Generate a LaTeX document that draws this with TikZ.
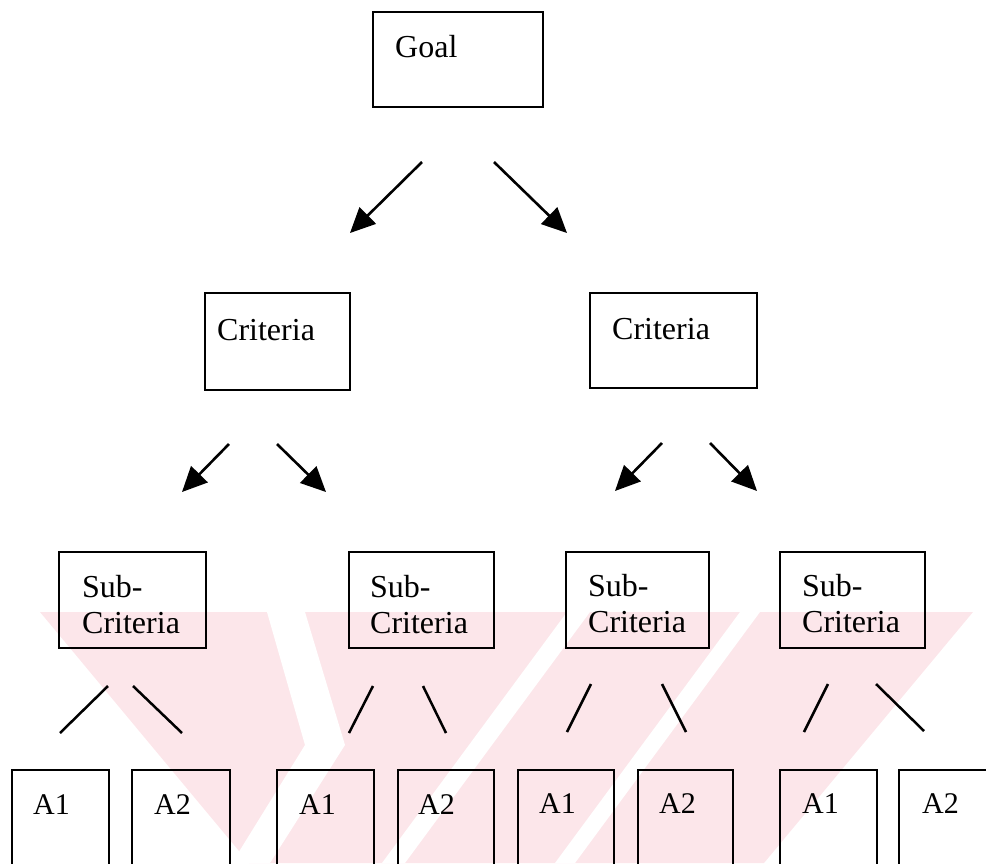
\documentclass[tikz,border=0pt]{standalone}
\usepackage{fontspec}
\setmainfont{Liberation Serif}
\usetikzlibrary{arrows.meta}
\definecolor{wm}{HTML}{FCE6EA}
\tikzset{
  box/.style={draw, line width=2.2pt, inner sep=0pt, rectangle},
  lbl/.style={anchor=base west, inner sep=0pt, font=\fontsize{32}{36}\selectfont},
  albl/.style={anchor=base west, inner sep=0pt, font=\fontsize{30}{34}\selectfont},
  arr/.style={line width=2.6pt, -{Triangle[length=25pt,width=23pt]}},
  link/.style={line width=2.5pt},
}
\begin{document}
\begin{tikzpicture}[x=1pt,y=-1pt]
\useasboundingbox (0,0) rectangle (986,863);
% faint watermark
\fill[wm] (40,612) -- (973,612) -- (764,863) -- (249,863) -- cycle;
\fill[white] (267,612) -- (305,612) -- (345,745) -- (270,863) -- (232,863) -- (305,745) -- cycle;
\fill[white] (567,612) -- (590,612) -- (405,863) -- (382,863) -- cycle;
\fill[white] (740,612) -- (760,612) -- (575,863) -- (555,863) -- cycle;
\fill[white] (900,700) -- (986,700) -- (986,863) -- (880,863) -- (840,820) -- cycle;

% boxes
\node[box, minimum width=170pt, minimum height=95pt] (goal) at (458,59.5) {};
\node[box, minimum width=145pt, minimum height=97pt] (critL) at (277.5,341.5) {};
\node[box, minimum width=167pt, minimum height=95pt] (critR) at (673.5,340.5) {};
\node[box, minimum width=147pt, minimum height=96pt] (s1) at (132.5,600) {};
\node[box, minimum width=145pt, minimum height=96pt] (s2) at (421.5,600) {};
\node[box, minimum width=143pt, minimum height=96pt] (s3) at (637.5,600) {};
\node[box, minimum width=145pt, minimum height=96pt] (s4) at (852.5,600) {};
\node[box, minimum width=97pt, minimum height=100pt] (a1) at (60.5,820) {};
\node[box, minimum width=98pt, minimum height=100pt] (a2) at (181,820) {};
\node[box, minimum width=97pt, minimum height=100pt] (a3) at (325.5,820) {};
\node[box, minimum width=96pt, minimum height=100pt] (a4) at (446,820) {};
\node[box, minimum width=96pt, minimum height=100pt] (a5) at (566,820) {};
\node[box, minimum width=95pt, minimum height=100pt] (a6) at (685.5,820) {};
\node[box, minimum width=97pt, minimum height=100pt] (a7) at (828.5,820) {};
\node[box, minimum width=96pt, minimum height=100pt] (a8) at (947,820) {};

% texts
\node[lbl] (goalt) at (395,57) {Goal};
\node[lbl] (critLt) at (217,340) {Criteria};
\node[lbl] (critRt) at (612,339) {Criteria};
\node[lbl] (s1a) at (82,597) {Sub-};
\node[lbl] (s1b) at (82,633) {Criteria};
\node[lbl] (s2a) at (370,597) {Sub-};
\node[lbl] (s2b) at (370,633) {Criteria};
\node[lbl] (s3a) at (588,596) {Sub-};
\node[lbl] (s3b) at (588,632) {Criteria};
\node[lbl] (s4a) at (802,596) {Sub-};
\node[lbl] (s4b) at (802,632) {Criteria};
\node[albl] (a1t) at (33,814) {A1};
\node[albl] (a2t) at (154,814) {A2};
\node[albl] (a3t) at (299,814) {A1};
\node[albl] (a4t) at (418,814) {A2};
\node[albl] (a5t) at (539,813) {A1};
\node[albl] (a6t) at (659,813) {A2};
\node[albl] (a7t) at (802,813) {A1};
\node[albl] (a8t) at (922,813) {A2};

% connector end points
\coordinate (g1s) at (422,162); \coordinate (g1e) at (350,233);
\coordinate (g2s) at (494,162); \coordinate (g2e) at (567,233);
\coordinate (l1s) at (229,444); \coordinate (l1e) at (182,492);
\coordinate (l2s) at (277,444); \coordinate (l2e) at (326,492);
\coordinate (r1s) at (662,443); \coordinate (r1e) at (615,491);
\coordinate (r2s) at (710,443); \coordinate (r2e) at (757,491);
\coordinate (p1s) at (108,686); \coordinate (p1e) at (60,733);
\coordinate (p2s) at (133,686); \coordinate (p2e) at (182,733);
\coordinate (p3s) at (373,686); \coordinate (p3e) at (349,733);
\coordinate (p4s) at (423,686); \coordinate (p4e) at (446,733);
\coordinate (p5s) at (591,684); \coordinate (p5e) at (567,732);
\coordinate (p6s) at (662,684); \coordinate (p6e) at (686,732);
\coordinate (p7s) at (828,684); \coordinate (p7e) at (804,732);
\coordinate (p8s) at (876,684); \coordinate (p8e) at (924,731);

\draw[arr] (g1s) -- (g1e);
\draw[arr] (g2s) -- (g2e);
\draw[arr] (l1s) -- (l1e);
\draw[arr] (l2s) -- (l2e);
\draw[arr] (r1s) -- (r1e);
\draw[arr] (r2s) -- (r2e);
\draw[link] (p1s) -- (p1e);
\draw[link] (p2s) -- (p2e);
\draw[link] (p3s) -- (p3e);
\draw[link] (p4s) -- (p4e);
\draw[link] (p5s) -- (p5e);
\draw[link] (p6s) -- (p6e);
\draw[link] (p7s) -- (p7e);
\draw[link] (p8s) -- (p8e);
\end{tikzpicture}
\end{document}
